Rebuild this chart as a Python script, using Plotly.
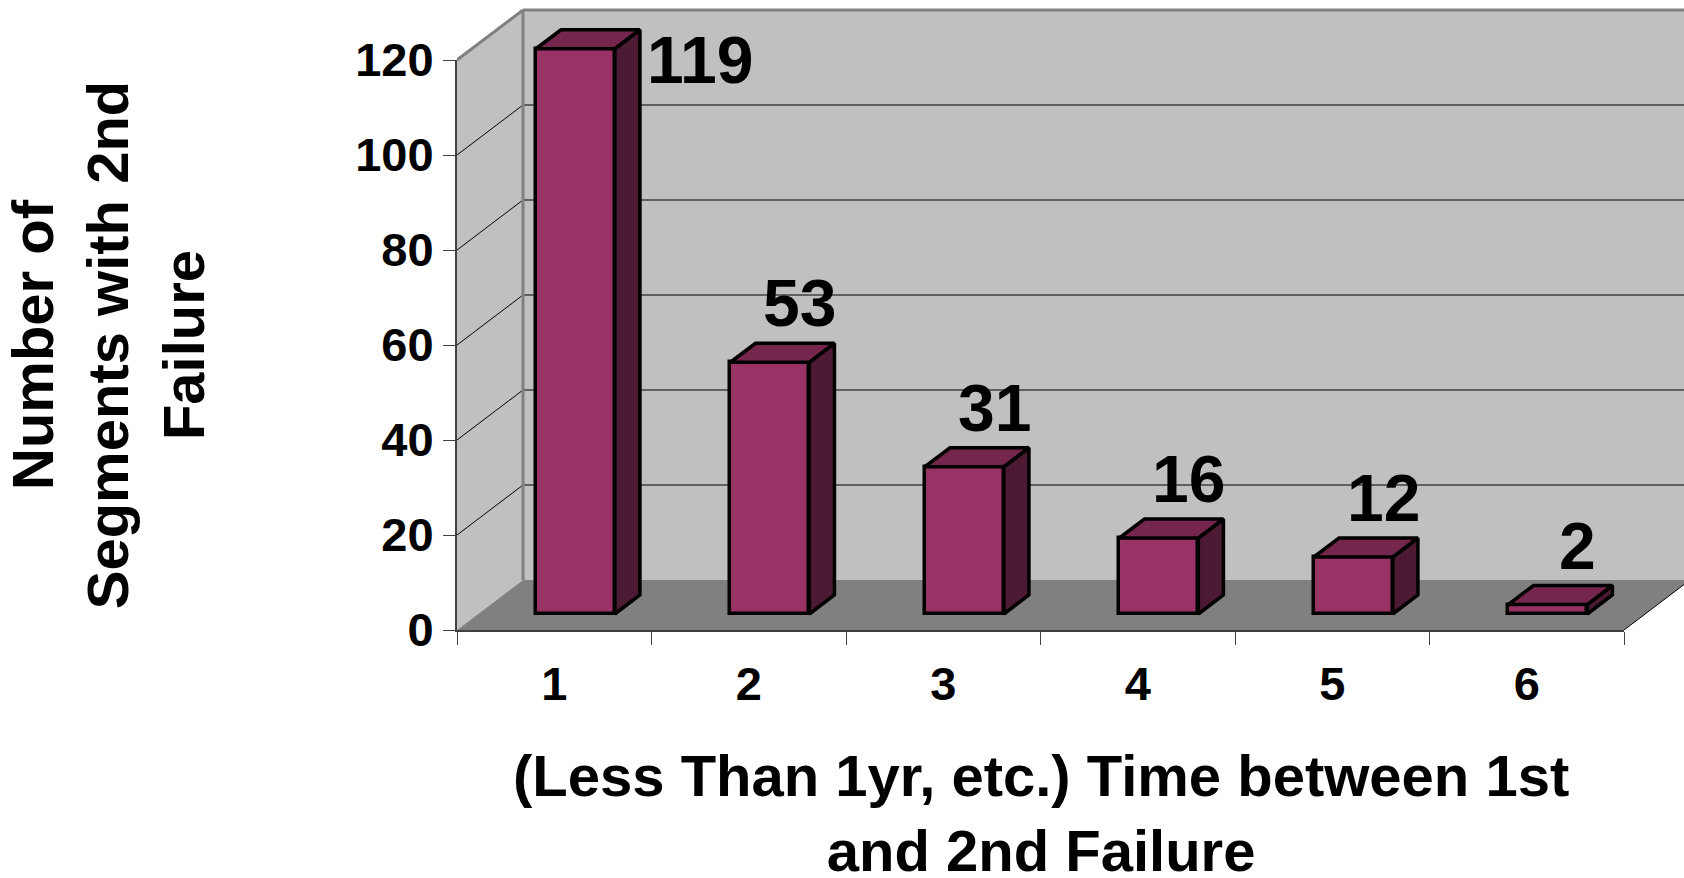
import plotly.graph_objects as go

# ---------------- data ----------------
categories = ["1", "2", "3", "4", "5", "6"]
counts = [119, 53, 31, 16, 12, 2]
value_ticks = [0, 20, 40, 60, 80, 100, 120]
y_title = "Number of<br>Segments with 2nd<br>Failure"
x_title = "(Less Than 1yr, etc.) Time between 1st<br>and 2nd Failure"

# ---------------- style ----------------
FONT = "Liberation Sans, Arial, Helvetica, sans-serif"
FRONT, TOP, SIDE = "#993366", "#74264D", "#4C1A33"
WALL, FLOOR, EDGE, AXIS = "#C0C0C0", "#808080", "#808080", "#404040"

W, H = 1684, 878
ML, MB = 457, 248
PW, PH = W - ML, H - MB
AX_LEN_PX = 1624 - ML      # length of the front category axis (px)
AX_TOP_PX = 60             # pixel row of the top value tick
DEPTH_PX = (66, 50)        # 3-D depth vector in pixels (right, up)
F_FRONT, F_BACK = 0.32, 0.70   # bar front/back as fraction of depth
BAR_W = 0.406              # bar width in category units
XTITLE_MID_PX = 813        # pixel row of the middle of the x-axis title block

n = len(categories)
vmax = value_ticks[-1]
xd = AX_LEN_PX / PW
yd = (PH - AX_TOP_PX) / PH
X0, X1 = 0.5, n + 0.5
XMAX = X0 + (X1 - X0) / xd
YMAX = vmax / yd
px_cat = AX_LEN_PX / n
px_val = (PH - AX_TOP_PX) / vmax
DX = DEPTH_PX[0] / px_cat
DY = DEPTH_PX[1] / px_val

fig = go.Figure()


def path(pts):
    return "M " + " L ".join(f"{x},{y}" for x, y in pts) + " Z"


shapes = []
# side wall, back wall, floor
shapes.append(dict(type="path", xref="x", yref="y", layer="below",
                   path=path([(X0, 0), (X0, vmax), (X0 + DX, vmax + DY), (X0 + DX, DY)]),
                   fillcolor=WALL, line=dict(width=0)))
shapes.append(dict(type="rect", xref="x", yref="y", layer="below",
                   x0=X0 + DX, y0=DY, x1=X1 + DX, y1=vmax + DY,
                   fillcolor=WALL, line=dict(width=0)))
shapes.append(dict(type="path", xref="x", yref="y", layer="below",
                   path=path([(X0, 0), (X1, 0), (X1 + DX, DY), (X0 + DX, DY)]),
                   fillcolor=FLOOR, line=dict(width=0)))
# gridlines on walls
for v in value_ticks[1:-1]:
    shapes.append(dict(type="line", xref="x", yref="y", layer="below",
                       x0=X0 + DX, y0=v + DY, x1=X1 + DX, y1=v + DY,
                       line=dict(color="black", width=1)))
    shapes.append(dict(type="line", xref="x", yref="y", layer="below",
                       x0=X0, y0=v, x1=X0 + DX, y1=v + DY,
                       line=dict(color="black", width=1)))
# wall edges
for (xa, ya, xb, yb) in [(X0, vmax, X0 + DX, vmax + DY),
                         (X0 + DX, vmax + DY, X1 + DX, vmax + DY),
                         (X0 + DX, DY, X0 + DX, vmax + DY)]:
    shapes.append(dict(type="line", xref="x", yref="y", layer="below",
                       x0=xa, y0=ya, x1=xb, y1=yb, line=dict(color=EDGE, width=3)))
shapes.append(dict(type="line", xref="x", yref="y", layer="below",
                   x0=X1, y0=0, x1=X1 + DX, y1=DY, line=dict(color="black", width=1)))

# ---------------- bars ----------------
pos = [i + 1 for i in range(n)]
base = F_FRONT * DY
xc = [p + F_FRONT * DX for p in pos]
ddx = (F_BACK - F_FRONT) * DX
ddy = (F_BACK - F_FRONT) * DY

fig.add_trace(go.Bar(x=xc, y=counts, base=base, width=BAR_W,
                     marker=dict(color=FRONT, line=dict(color="black", width=3.5)),
                     hoverinfo="skip", showlegend=False))

sx, sy, tx, ty = [], [], [], []
for c, v in zip(xc, counts):
    xl, xr = c - BAR_W / 2, c + BAR_W / 2
    yt = base + v
    sx += [xr, xr, xr + ddx, xr + ddx, xr, None]
    sy += [base, yt, yt + ddy, base + ddy, base, None]
    tx += [xl, xr, xr + ddx, xl + ddx, xl, None]
    ty += [yt, yt, yt + ddy, yt + ddy, yt, None]

fig.add_trace(go.Scatter(x=sx, y=sy, mode="lines", fill="toself", fillcolor=SIDE,
                         line=dict(color="black", width=3.5), hoverinfo="skip", showlegend=False))
fig.add_trace(go.Scatter(x=tx, y=ty, mode="lines", fill="toself", fillcolor=TOP,
                         line=dict(color="black", width=3.5), hoverinfo="skip", showlegend=False))

# anchor trace for the front axes
fig.add_trace(go.Scatter(x=[], y=[], xaxis="x2", yaxis="y2", showlegend=False))

# ---------------- value labels ----------------
LABEL_GAP = 40 / px_val
annotations = []
for c, v in zip(xc, counts):
    yb = base + v + ddy + LABEL_GAP
    if yb > vmax:
        annotations.append(dict(x=c + BAR_W / 2 + ddx + 5 / px_cat, y=vmax, xref="x", yref="y",
                                text=str(v), showarrow=False, xanchor="left", yanchor="middle",
                                font=dict(family=FONT, size=66, color="black", weight="bold")))
    else:
        annotations.append(dict(x=c + ddx + 5 / px_cat, y=yb, xref="x", yref="y",
                                text=str(v), showarrow=False, xanchor="center", yanchor="middle",
                                font=dict(family=FONT, size=66, color="black", weight="bold")))

tickfont = dict(family=FONT, size=47, color="black", weight="bold")
titlefont = dict(family=FONT, size=58, color="black", weight="bold")

# x-axis title (placed as an annotation so it can sit lower than the margin allows)
annotations.append(dict(x=xd / 2, y=-(XTITLE_MID_PX - PH) / PH, xref="paper", yref="paper",
                        text=x_title, showarrow=False, xanchor="center", yanchor="middle",
                        align="center", font=titlefont))

fig.update_layout(
    width=W, height=H,
    margin=dict(l=ML, r=0, t=0, b=MB, pad=0),
    paper_bgcolor="white", plot_bgcolor="rgba(0,0,0,0)",
    showlegend=False, bargap=0,
    shapes=shapes, annotations=annotations,
    xaxis=dict(domain=[0, 1], range=[X0, XMAX], visible=False, fixedrange=True),
    yaxis=dict(domain=[0, 1], range=[0, YMAX], visible=False, fixedrange=True),
    xaxis2=dict(domain=[0, xd], range=[X0, X1], anchor="y2", tickmode="array",
                tickvals=pos, ticktext=categories, ticks="", showline=True,
                linecolor=AXIS, linewidth=2, showgrid=False, zeroline=False,
                tickfont=tickfont, ticklabelstandoff=12,
                minor=dict(tickmode="array", tickvals=[p - 0.5 for p in pos] + [X1],
                           ticks="outside", ticklen=13, tickcolor=AXIS, tickwidth=1,
                           showgrid=False),
                automargin=False, fixedrange=True),
    yaxis2=dict(domain=[0, yd], range=[0, vmax], anchor="x2", tickmode="array",
                tickvals=value_ticks, ticks="outside", ticklen=12, tickcolor=AXIS,
                tickwidth=1, showline=True, linecolor=AXIS, linewidth=2,
                showgrid=False, zeroline=False, tickfont=tickfont, ticklabelstandoff=0,
                title=dict(text=y_title, font=titlefont, standoff=140),
                automargin=False, fixedrange=True),
)

fig.write_html("out.html", config={"displayModeBar": False},
               post_script="document.body.style.margin='0';document.body.style.overflow='hidden';")
